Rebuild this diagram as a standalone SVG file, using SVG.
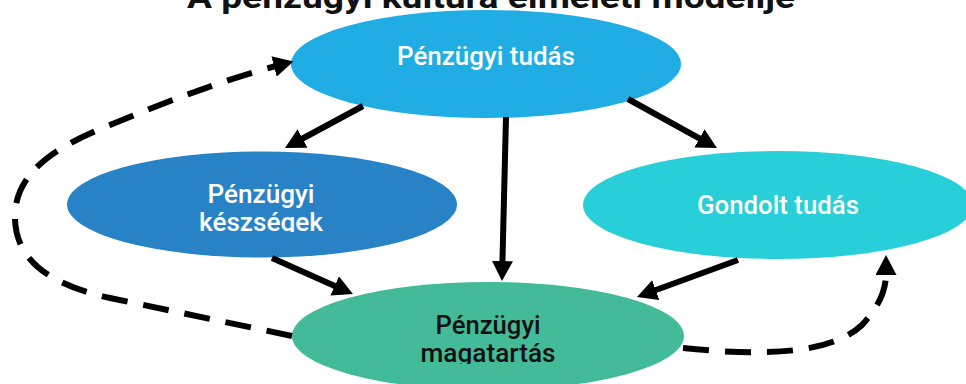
<svg xmlns="http://www.w3.org/2000/svg" width="966" height="384" viewBox="0 0 966 384">
  <defs>
    <style>
      .lbl { font-family: Roboto, "Liberation Sans", sans-serif; font-size: 25px; font-weight: 500; text-anchor: middle; }
      .w { fill: #ffffff; }
      .k { fill: #111111; }
      .title { font-family: Roboto, "Liberation Sans", sans-serif; font-size: 32px; font-weight: 700; text-anchor: middle; fill: #111111; }
      .solid { fill: none; stroke: #000; stroke-width: 6; marker-end: url(#ah); }
      .dash { fill: none; stroke: #000; stroke-width: 6; stroke-dasharray: 26 16; marker-end: url(#ah); }
    </style>
    <marker id="ah" markerUnits="userSpaceOnUse" markerWidth="20" markerHeight="21" viewBox="0 0 20 21" refX="2" refY="10.5" orient="auto">
      <path d="M0,0 L20,10.5 L0,21 z" fill="#000"/>
    </marker>
    <clipPath id="clipL"><rect x="0" y="0" width="966" height="232"/></clipPath>
    <clipPath id="clipB"><rect x="0" y="0" width="966" height="364"/></clipPath>
  </defs>
  <rect width="966" height="384" fill="#ffffff"/>
  <text class="title" x="491" y="8" textLength="608" lengthAdjust="spacingAndGlyphs">A pénzügyi kultúra elméleti modellje</text>

  <g id="node-tudas">
    <ellipse cx="486" cy="64" rx="195" ry="54" fill="#1FADE3"/>
    <text class="lbl w" x="486" y="65" textLength="178" lengthAdjust="spacingAndGlyphs">Pénzügyi tudás</text>
  </g>
  <g id="node-keszsegek">
    <ellipse cx="262" cy="204.5" rx="195" ry="53" fill="#2783C6"/>
    <g clip-path="url(#clipL)">
      <text class="lbl w" x="261" y="203" textLength="107" lengthAdjust="spacingAndGlyphs">Pénzügyi</text>
      <text class="lbl w" x="261" y="231" textLength="124" lengthAdjust="spacingAndGlyphs">készségek</text>
    </g>
  </g>
  <g id="node-gondolt">
    <ellipse cx="778" cy="205" rx="195" ry="54" fill="#28CED8"/>
    <text class="lbl w" x="778" y="214" textLength="162" lengthAdjust="spacingAndGlyphs">Gondolt tudás</text>
  </g>
  <g id="node-magatartas">
    <ellipse cx="488" cy="336" rx="196" ry="54" fill="#43BA98"/>
    <g clip-path="url(#clipB)">
      <text class="lbl k" x="488" y="334" textLength="105" lengthAdjust="spacingAndGlyphs">Pénzügyi</text>
      <text class="lbl k" x="488" y="362" textLength="135" lengthAdjust="spacingAndGlyphs">magatartás</text>
    </g>
  </g>

  <g id="connectors">
    <path class="solid" d="M363,106 L300.8,139.5"/>
    <path class="solid" d="M506,117 L502.4,263"/>
    <path class="solid" d="M628,99 L701.2,139.3"/>
    <path class="solid" d="M272,258 L336.5,286.7"/>
    <path class="solid" d="M738,260 L653.9,290.8"/>
    <path class="dash" d="M292,336 L110,298 C50,285 14,260 15,215 C16,170 60,145 110,125 C170,100 230,78 276,66"/>
    <path class="dash" d="M683,348 C760,356 830,355 862,325 C880,305 886,290 886,273"/>
  </g>
</svg>
